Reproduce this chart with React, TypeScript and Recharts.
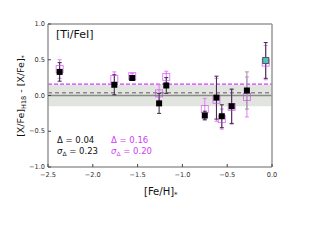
import { ComposedChart, ErrorBar, ReferenceArea, ReferenceLine, Scatter, XAxis, YAxis } from "recharts";

// [Fe/H]* of each star
const feh = [-2.37, -1.76, -1.56, -1.26, -1.18, -0.75, -0.62, -0.56, -0.45, -0.28, -0.07];
// black points and their errors
const deltaBlack = [0.33, 0.15, 0.245, -0.11, 0.14, -0.28, -0.03, -0.29, -0.15, 0.07, 0.49];
const errBlack = [0.13, 0.14, 0.03, 0.14, 0.11, 0.06, 0.3, 0.16, 0.24, 0.26, 0.25];
// magenta open squares and their errors
const deltaMagenta = [0.37, 0.23, 0.27, 0.03, 0.26, -0.19, -0.06, -0.33, -0.16, -0.02, 0.46];
const errMagenta = [0.13, 0.1, 0.04, 0.12, 0.08, 0.15, 0.3, 0.14, 0.24, 0.28, 0.24];
// k = black, g = black with grey error, c = cyan
const kind = ["k", "k", "k", "k", "k", "k", "k", "k", "k", "g", "c"];

const xTicks = [-2.5, -2.0, -1.5, -1.0, -0.5, 0.0];
const yTicks = [-1.0, -0.5, 0.0, 0.5, 1.0];
const band = [-0.15, 0.15];
const meanBlack = 0.04;
const meanMagenta = 0.16;

const MAG = "#d03cf5";
const FONT = "DejaVu Sans";

const fmt = (v: number) => (v < 0 ? "\u2212" : "") + Math.abs(v).toFixed(1);

const rows = feh.map((x, i) => ({ x, y: deltaBlack[i], err: errBlack[i], kind: kind[i] }));
const magRows = feh.map((x, i) => ({ x, y: deltaMagenta[i], err: errMagenta[i] }));

const BottomTick = ({ x, y, payload }: any) => (
  <g>
    <line x1={x} y1={y} x2={x} y2={y - 3} stroke="#444" />
    <text x={x} y={y + 9.5} textAnchor="middle" fontSize={6.6} fill="#333" fontFamily={FONT}>
      {fmt(payload.value)}
    </text>
  </g>
);
const LeftTick = ({ x, y, payload }: any) => (
  <g>
    <line x1={x} y1={y} x2={x + 3} y2={y} stroke="#444" />
    <text x={x - 3} y={y + 2.2} textAnchor="end" fontSize={6.6} fill="#333" fontFamily={FONT}>
      {fmt(payload.value)}
    </text>
  </g>
);
const TopTick = ({ x, y }: any) => <line x1={x} y1={y} x2={x} y2={y + 3} stroke="#444" />;
const RightTick = ({ x, y }: any) => <line x1={x} y1={y} x2={x - 3} y2={y} stroke="#444" />;

const blackSq = ({ cx, cy }: any) => <rect x={cx - 3} y={cy - 3} width={6} height={6} fill="#000" />;
const cyanSq = ({ cx, cy }: any) => (
  <rect x={cx - 3} y={cy - 3} width={6} height={6} fill="#4cc4c6" stroke="#555" strokeWidth={1} />
);
const openSq = ({ cx, cy }: any) => (
  <rect x={cx - 3.5} y={cy - 3.5} width={7} height={7} fill="none" stroke={MAG} strokeWidth={0.9} opacity={0.7} />
);

export default function App() {
  return (
    <div style={{ position: "absolute", left: 0, top: 0, width: 320, height: 240, background: "#fff" }}>
      <ComposedChart width={320} height={240} margin={{ top: 20, right: 44, bottom: 53, left: 0 }}>
        <XAxis
          type="number"
          dataKey="x"
          domain={[-2.5, 0]}
          ticks={xTicks}
          height={20}
          tickSize={0}
          tickMargin={0}
          stroke="#999"
          strokeWidth={1.5}
          tick={BottomTick}
          allowDataOverflow
        />
        <XAxis
          xAxisId="top"
          orientation="top"
          type="number"
          domain={[-2.5, 0]}
          ticks={xTicks}
          height={4}
          tickSize={0}
          tickMargin={0}
          stroke="#999"
          strokeWidth={1.5}
          tick={TopTick}
        />
        <YAxis
          type="number"
          dataKey="y"
          domain={[-1, 1]}
          ticks={yTicks}
          width={48}
          tickSize={0}
          tickMargin={0}
          stroke="#999"
          strokeWidth={1.5}
          tick={LeftTick}
          allowDataOverflow
        />
        <YAxis
          yAxisId="right"
          orientation="right"
          type="number"
          domain={[-1, 1]}
          ticks={yTicks}
          width={4}
          tickSize={0}
          tickMargin={0}
          stroke="#999"
          strokeWidth={1.5}
          tick={RightTick}
        />
        <ReferenceArea y1={band[0]} y2={band[1]} fill="#e2e5df" fillOpacity={1} stroke="none" />
        <ReferenceLine y={0} stroke="#8a8a8a" strokeWidth={1.5} />
        <ReferenceLine y={meanBlack} stroke="#8a8a8a" strokeWidth={1.5} strokeDasharray="4 3" />
        <ReferenceLine y={meanMagenta} stroke={MAG} strokeWidth={1.2} strokeDasharray="4 2" />
        <Scatter data={magRows} shape={openSq} isAnimationActive={false}>
          <ErrorBar dataKey="err" direction="y" width={2} stroke="#e27cf5" strokeWidth={1} />
        </Scatter>
        <Scatter data={rows.filter((r) => r.kind === "k")} shape={blackSq} isAnimationActive={false}>
          <ErrorBar dataKey="err" direction="y" width={2} stroke="#3a2a44" strokeWidth={1} />
        </Scatter>
        <Scatter data={rows.filter((r) => r.kind === "g")} shape={blackSq} isAnimationActive={false}>
          <ErrorBar dataKey="err" direction="y" width={2} stroke="#999" strokeWidth={1} />
        </Scatter>
        <Scatter data={rows.filter((r) => r.kind === "c")} shape={cyanSq} isAnimationActive={false}>
          <ErrorBar dataKey="err" direction="y" width={2} stroke="#3a2a44" strokeWidth={1} />
        </Scatter>
      </ComposedChart>
      <svg width={320} height={240} style={{ position: "absolute", left: 0, top: 0, pointerEvents: "none" }} fontFamily={FONT}>
        <text x={56} y={38} fontSize={11} fill="#111">[Ti/FeI]</text>
        <text x={57} y={142.5} fontSize={8.5} fill="#111">{"\u0394 = 0.04"}</text>
        <text x={57} y={154} fontSize={8.5} fill="#111">
          <tspan fontStyle="italic">σ</tspan>
          <tspan fontSize={6} dy={2}>Δ</tspan>
          <tspan dy={-2}>{" = 0.23"}</tspan>
        </text>
        <text x={111} y={142.5} fontSize={8.5} fill={MAG}>{"\u0394 = 0.16"}</text>
        <text x={111} y={154} fontSize={8.5} fill={MAG}>
          <tspan fontStyle="italic">σ</tspan>
          <tspan fontSize={6} dy={2}>Δ</tspan>
          <tspan dy={-2}>{" = 0.20"}</tspan>
        </text>
        <text x={144} y={195} fontSize={10} fill="#111">
          [Fe/H]<tspan fontSize={7} dy={2}>*</tspan>
        </text>
        <text x={24} y={96} fontSize={9.5} fill="#111" textAnchor="middle" transform="rotate(-90 24 96)">
          [X/Fe]<tspan fontSize={6.5} dy={2}>H18</tspan>
          <tspan dy={-2}>{" - [X/Fe]"}</tspan>
          <tspan fontSize={6.5} dy={2}>*</tspan>
        </text>
      </svg>
    </div>
  );
}
